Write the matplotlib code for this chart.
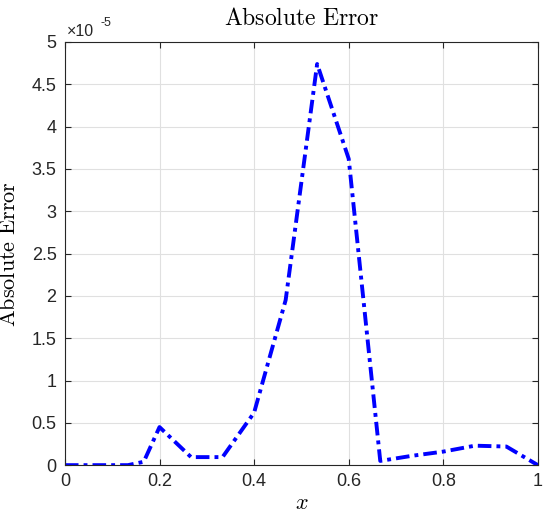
#Absolute error plot, MATLAB-like style

#import modules
import matplotlib
matplotlib.use("Agg")
import matplotlib.pyplot as plt
from matplotlib.ticker import FuncFormatter

#Data (y in absolute units)
x_vals = [0, 0.0667, 0.1333, 0.1667, 0.2, 0.2667, 0.3333, 0.4, 0.4667, 0.5333,
          0.6, 0.6667, 0.7333, 0.8, 0.8667, 0.9333, 1.0]
err_vals = [0, 0, 0, 0.04e-5, 0.45e-5, 0.095e-5, 0.095e-5, 0.62e-5, 1.95e-5, 4.74e-5,
            3.62e-5, 0.05e-5, 0.11e-5, 0.16e-5, 0.23e-5, 0.22e-5, 0]
x_ticks = [0, 0.2, 0.4, 0.6, 0.8, 1.0]
y_ticks = [i * 0.5e-5 for i in range(11)]

plt.rcParams['mathtext.fontset'] = 'cm'
plt.rcParams['font.family'] = ['Liberation Sans', 'DejaVu Sans']

fig = plt.figure(figsize=(5.5, 5.25), dpi=100)
ax = fig.add_axes([0.118, 0.114, 0.860, 0.806])

#Main curve
ax.plot(x_vals, err_vals, color="blue", linestyle="-.", linewidth=2.8,
        dashes=(3.5, 1.3, 1.0, 1.3))

ax.set_xlim(0, 1)
ax.set_ylim(0, 5e-5)
ax.set_xticks(x_ticks)
ax.set_yticks(y_ticks)
ax.xaxis.set_major_formatter(FuncFormatter(lambda v, p: "%g" % v))
ax.yaxis.set_major_formatter(FuncFormatter(lambda v, p: "%g" % round(v * 1e5, 2)))
ax.tick_params(direction="in", length=4, width=0.8, labelsize=13,
               colors="#262626", top=True, right=True, pad=6)
ax.grid(True, color="#e0e0e0", linewidth=0.8)
ax.set_axisbelow(True)
for s in ax.spines.values():
    s.set_color("#262626")
    s.set_linewidth(0.8)

#Exponent label
fig.text(0.122, 0.926, "×10", fontsize=11.5, color="#262626", va="bottom")
fig.text(0.183, 0.945, "-5", fontsize=9, color="#262626", va="bottom")

ax.set_title(r"$\mathrm{Absolute\ Error}$", fontsize=17, pad=12)
ax.set_xlabel(r"$x$", fontsize=16, labelpad=2)
ax.set_ylabel(r"$\mathrm{Absolute\ Error}$", fontsize=16, labelpad=8)

fig.savefig("out.png", dpi=100)
